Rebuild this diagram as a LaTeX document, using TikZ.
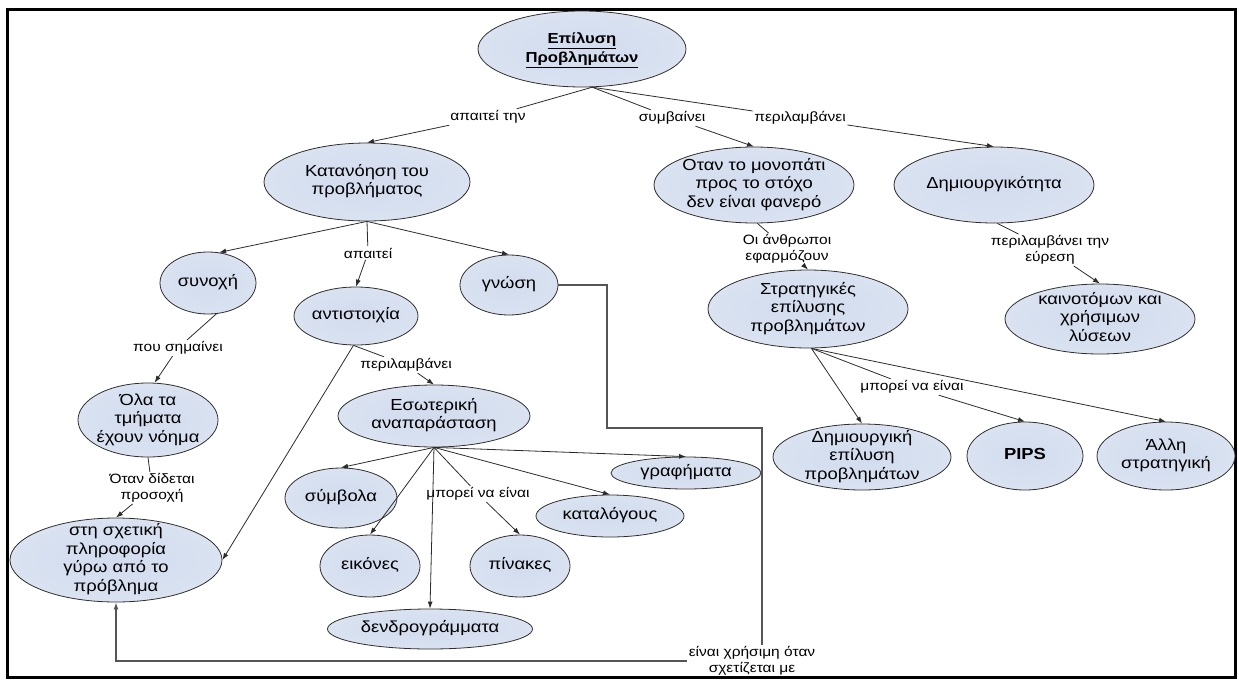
\documentclass[tikz,border=0pt]{standalone}
\usepackage{fontspec}
\setmainfont[FakeStretch=1.15]{Liberation Sans}
\usetikzlibrary{shapes.geometric,arrows.meta}
\definecolor{ellin}{HTML}{D2DCEE}
\definecolor{ellout}{HTML}{F3F6FB}
\definecolor{ellborder}{HTML}{2E2E2E}
\definecolor{linecol}{HTML}{2B2B2B}
\definecolor{boxcol}{HTML}{555555}
\pgfdeclareradialshading{ellshade}{\pgfpoint{0bp}{0bp}}{color(0bp)=(ellin); color(22bp)=(ellin!80!ellout); color(50bp)=(ellout)}
\newcommand\nodefont{\fontsize{16}{18.5}\selectfont}
\newcommand\rootfont{\fontsize{14.5}{19}\selectfont\bfseries}
\newcommand\labfont{\fontsize{13.5}{15.5}\selectfont}
\newcommand\ctr[1]{\makebox[0pt]{\raisebox{\dimexpr(\depth-\height)/2\relax}[0pt][0pt]{\begin{tabular}{@{}c@{}}#1\end{tabular}}}}
\begin{document}
\begin{tikzpicture}[x=1pt,y=-1pt,
  ell/.style={ellipse, draw=ellborder, line width=0.8pt, shade, shading=ellshade, inner sep=0pt, font=\nodefont},
  E/.style 2 args={minimum width=#1pt, minimum height=#2pt},
  lab/.style={font=\labfont, inner sep=1.5pt, align=center, text=black},
  con/.style={draw=linecol, line width=0.8pt},
  arr/.style={-{Latex[length=7pt,width=5pt]}},
  boxline/.style={draw=boxcol, line width=1.3pt}]
\useasboundingbox (0,0) rectangle (1239,680);
\draw[line width=3pt] (7.5,9) rectangle (1235.5,677.5);

% nodes
\node[ell,E={208}{76},font=\rootfont] (root) at (582,49) {\ctr{\underline{Επίλυση}\\\underline{Προβλημάτων}}};
\node[ell,E={206}{78}] (kat) at (367,182) {\ctr{Κατανόηση του\\προβλήματος}};
\node[ell,E={96}{62}] (syn) at (208,283) {\ctr{συνοχή}};
\node[ell,E={124}{58}] (ant) at (356,316) {\ctr{αντιστοιχία}};
\node[ell,E={98}{60}] (gn) at (509,285) {\ctr{γνώση}};
\node[ell,E={140}{74}] (ola) at (148,420) {\ctr{Όλα τα\\τμήματα\\έχουν νόημα}};
\node[ell,E={212}{84}] (sto) at (116,560) {\ctr{στη σχετική\\πληροφορία\\γύρω από το\\πρόβλημα}};
\node[ell,E={192}{62}] (eso) at (434,416) {\ctr{Εσωτερική\\αναπαράσταση}};
\node[ell,E={112}{60}] (sym) at (341,498) {\ctr{σύμβολα}};
\node[ell,E={100}{62}] (eik) at (370,566) {\ctr{εικόνες}};
\node[ell,E={205}{40}] (den) at (430,629) {\ctr{δενδρογράμματα}};
\node[ell,E={100}{62}] (pin) at (520,566) {\ctr{πίνακες}};
\node[ell,E={148}{42}] (ktl) at (610,516) {\ctr{καταλόγους}};
\node[ell,E={150}{32}] (gra) at (686,473) {\ctr{γραφήματα}};
\node[ell,E={200}{76}] (otan) at (754,185) {\ctr{Οταν το μονοπάτι\\προς το στόχο\\δεν είναι φανερό}};
\node[ell,E={200}{76}] (dim) at (994,185) {\ctr{Δημιουργικότητα}};
\node[ell,E={200}{78}] (str) at (808,309) {\ctr{Στρατηγικές\\επίλυσης\\προβλημάτων}};
\node[ell,E={190}{70}] (kain) at (1100,319) {\ctr{καινοτόμων και\\χρήσιμων\\λύσεων}};
\node[ell,E={178}{66}] (dep) at (862,457) {\ctr{Δημιουργική\\επίλυση\\προβλημάτων}};
\node[ell,E={116}{68}] (pips) at (1025,456) {\ctr{\bfseries PIPS}};
\node[ell,E={138}{68}] (alli) at (1166,456) {\ctr{Άλλη\\στρατηγική}};

% labels
\node[lab] (l1) at (488,117) {απαιτεί την};
\node[lab] (l2) at (672,118) {συμβαίνει};
\node[lab] (l3) at (800,118) {περιλαμβάνει};
\node[lab] (l4) at (368,253) {απαιτεί};
\node[lab] (l5) at (178,348) {που σημαίνει};
\node[lab] (l6) at (152,488) {Όταν δίδεται\\προσοχή};
\node[lab] (l7) at (406,365) {περιλαμβάνει};
\node[lab] (l8) at (478,494) {μπορεί να είναι};
\node[lab] (l9) at (787,249) {Οι άνθρωποι\\εφαρμόζουν};
\node[lab] (l10) at (1050,250) {περιλαμβάνει την\\εύρεση};
\node[lab] (l11) at (912,387) {μπορεί να είναι};
\node[lab] (lx) at (752,661) {είναι χρήσιμη όταν\\σχετίζεται με};

% connectors
\draw[con] (root.-75) -- (l1);
\draw[con,arr] (l1) -- (kat.north);
\draw[con] (root.-75) -- (l2);
\draw[con,arr] (l2) -- (otan.north);
\draw[con] (root.-75) -- (l3);
\draw[con,arr] (l3) -- (dim.north);

\draw[con,arr] (kat.south) -- (syn.70);
\draw[con] (kat.south) -- (l4);
\draw[con,arr] (l4) -- (ant.north);
\draw[con,arr] (kat.south) -- (gn.north);

\draw[con] (syn.-75) -- (l5);
\draw[con,arr] (l5) -- (ola.80);
\draw[con] (ola.south) -- (l6);
\draw[con,arr] (l6) -- (sto.north);

\draw[con,arr] (ant.-95) -- (sto.east);
\draw[con] (ant.-95) -- (l7);
\draw[con,arr] (l7) -- (eso.north);

\draw[con,arr] (eso.south) -- (sym.north);
\draw[con,arr] (eso.south) -- (eik.north);
\draw[con,arr] (eso.south) -- (den.north);
\draw[con] (eso.south) -- (l8);
\draw[con,arr] (l8) -- (pin.north);
\draw[con,arr] (eso.south) -- (ktl.north);
\draw[con,arr] (eso.south) -- (gra.north);

\draw[con] (otan.-85) -- (l9);
\draw[con,arr] (l9) -- (str.north);
\draw[con] (dim.-85) -- (l10);
\draw[con,arr] (l10) -- (kain.north);

\draw[con,arr] (str.-85) -- (dep.north);
\draw[con] (str.-85) -- (l11);
\draw[con,arr] (l11) -- (pips.north);
\draw[con,arr] (str.-85) -- (alli.north);

\coordinate (b1) at (607,428);
\coordinate (b2) at (762,428);
\draw[boxline] (gn.east) -| (b1) -- (b2) -- (b2 |- lx.north);
\draw[boxline,arr] (lx.west) -| (sto.south);
\end{tikzpicture}
\end{document}
